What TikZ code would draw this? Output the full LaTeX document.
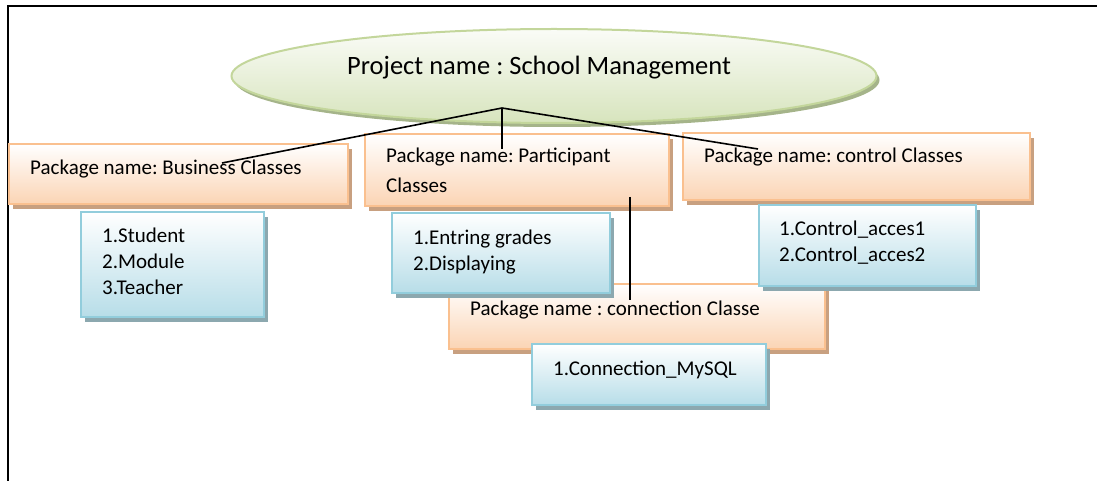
\documentclass[tikz,border=0pt]{standalone}
\usepackage{fontspec}
\setmainfont{Carlito}
\frenchspacing
\usetikzlibrary{shapes.geometric,shadows}

\definecolor{pkgdraw}{RGB}{250,192,143}
\definecolor{pkgfill}{RGB}{251,212,180}
\definecolor{pkgshadow}{RGB}{200,160,128}
\definecolor{lstdraw}{RGB}{146,205,220}
\definecolor{lstfill}{RGB}{183,221,232}
\definecolor{lstshadow}{RGB}{140,168,175}
\definecolor{elldraw}{RGB}{195,214,155}
\definecolor{ellfill}{RGB}{215,228,189}
\definecolor{ellshadow}{RGB}{165,180,138}

\tikzset{
    pkgbox/.style={draw=pkgdraw, line width=2.2pt, top color=white, bottom color=pkgfill,
        drop shadow={shadow xshift=4pt, shadow yshift=-5pt, fill=pkgshadow, opacity=1},
        anchor=north west, inner sep=0pt},
    lstbox/.style={draw=lstdraw, line width=2.2pt, top color=white, bottom color=lstfill,
        drop shadow={shadow xshift=4pt, shadow yshift=-5pt, fill=lstshadow, opacity=1},
        anchor=north west, inner sep=0pt},
    txt/.style={anchor=base west, inner sep=0pt, align=left, font=\fontsize{21}{26}\selectfont},
    link/.style={line width=1.6pt, black}
}

\begin{document}
\begin{tikzpicture}[x=1pt, y=-1pt]
    \useasboundingbox (0,0) rectangle (1097,481);

    % Frame
    \draw[line width=2pt] (8,481) -- (8,6) -- (1097,6);

    % Project
    \node[ellipse, draw=elldraw, line width=2pt, top color=white!60!ellfill!30, bottom color=ellfill,
        drop shadow={shadow xshift=3pt, shadow yshift=-4pt, fill=ellshadow, opacity=1},
        minimum width=645pt, minimum height=94pt, inner sep=0pt] (proj) at (554,76) {};
    \node[txt, font=\fontsize{26.5}{30}\selectfont] (projT) at (347,75) {Project name : School Management};

    % Packages
    \node[pkgbox, minimum width=339pt, minimum height=60pt] (bus) at (8,143) {};
    \node[pkgbox, minimum width=304pt, minimum height=72pt] (part) at (364,133) {};
    \node[pkgbox, minimum width=347pt, minimum height=67pt] (ctrl) at (682,132) {};
    \node[pkgbox, minimum width=376pt, minimum height=65pt] (conn) at (448,283) {};

    \node[txt] (busT) at (30,175) {Package name: Business Classes};
    \node[txt, font=\fontsize{21}{30}\selectfont] (partT) at (386,193) {Package name: Participant\\Classes};
    \node[txt] (ctrlT) at (704,163) {Package name: control Classes};
    \node[txt] (connT) at (470,315) {Package name : connection Classe};

    % Classes
    \node[lstbox, minimum width=183pt, minimum height=105pt] (stu) at (80,211) {};
    \node[lstbox, minimum width=218pt, minimum height=80pt] (ent) at (391,212) {};
    \node[lstbox, minimum width=217pt, minimum height=81pt] (acc) at (758,204) {};
    \node[lstbox, minimum width=234pt, minimum height=61pt] (sql) at (531,343) {};

    \node[txt] (stuT) at (102,294) {1.Student\\2.Module\\3.Teacher};
    \node[txt] (entT) at (413,270) {1.Entring grades\\2.Displaying};
    \node[txt] (accT) at (779,261) {1.Control\_acces1\\2.Control\_acces2};
    \node[txt] (sqlT) at (553,375) {1.Connection\_MySQL};

    % Links
    \coordinate (hub) at (502,108);
    \coordinate (busE) at (222,163);
    \coordinate (partE) at (502,149);
    \coordinate (ctrlE) at (758,149);
    \coordinate (connS) at (630,197);
    \coordinate (connE) at (630,300);
    \draw[link] (busE) -- (hub) -- (ctrlE);
    \draw[link] (hub) -- (partE);
    \draw[link] (connS) -- (connE);
\end{tikzpicture}
\end{document}
